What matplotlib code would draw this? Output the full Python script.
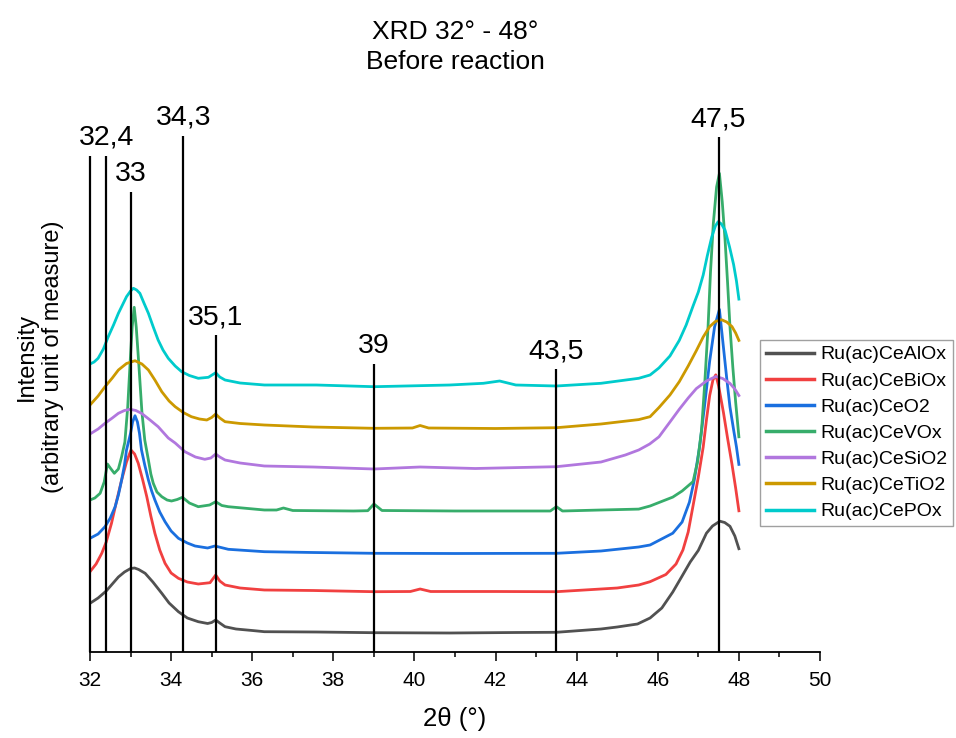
import matplotlib
matplotlib.use("Agg")
import matplotlib.pyplot as plt
from matplotlib.ticker import MultipleLocator

plt.rcParams["font.family"] = ["Liberation Sans", "DejaVu Sans"]

# 2theta / intensity (arbitrary units)
alox_x = [32.0, 32.2, 32.4, 32.55, 32.7, 32.85, 33.0, 33.1, 33.2, 33.36, 33.55, 33.77, 33.95, 34.18,
          34.4, 34.67, 34.9, 35.0, 35.1, 35.2, 35.33, 35.6, 36.0, 36.3, 37.58, 39.0, 40.87, 42.5,
          43.5, 44.6, 45.0, 45.5, 45.81, 46.1, 46.37, 46.6, 46.8, 47.0, 47.2, 47.35, 47.53, 47.65,
          47.78, 47.9, 48.0]
alox_y = [48.7, 54.0, 61.0, 68.0, 75.0, 80.0, 83.5, 84.0, 82.5, 78.7, 70.0, 58.7, 49.0, 40.3,
          34.0, 30.3, 28.5, 29.5, 32.0, 29.0, 25.3, 23.0, 21.5, 20.3, 20.0, 19.3, 19.0, 19.5,
          19.7, 23.0, 25.0, 28.0, 34.0, 44.0, 60.0, 76.0, 90.0, 101.6, 118.8, 126.0, 130.8, 129.5,
          125.7, 116.0, 103.3]

biox_x = [32.0, 32.15, 32.29, 32.4, 32.53, 32.65, 32.78, 32.9, 33.01, 33.1, 33.19, 33.3, 33.4, 33.5,
          33.6, 33.72, 33.85, 34.0, 34.18, 34.4, 34.67, 34.96, 35.1, 35.2, 35.33, 35.7, 36.3, 37.5,
          39.0, 39.9, 40.14, 40.4, 42.0, 43.5, 44.6, 45.0, 45.53, 45.81, 46.2, 46.45, 46.62, 46.75,
          46.87, 47.0, 47.12, 47.2, 47.28, 47.36, 47.43, 47.5, 47.62, 47.72, 47.83, 47.92, 48.0]
biox_y = [80.3, 88.0, 98.7, 110.0, 128.7, 150.0, 172.0, 190.0, 202.0, 198.0, 188.7, 172.0, 155.3, 136.0,
          118.7, 102.0, 88.7, 79.0, 73.7, 70.0, 68.0, 69.3, 77.0, 71.0, 67.0, 64.0, 62.0, 61.5,
          60.3, 60.5, 63.0, 60.5, 60.5, 60.3, 63.0, 64.0, 67.0, 70.3, 77.5, 88.0, 102.0, 120.0,
          146.3, 175.0, 204.9, 232.0, 256.5, 272.0, 277.2, 266.0, 239.3, 214.0, 187.6, 164.0, 141.2]

ceo2_x = [32.0, 32.2, 32.37, 32.5, 32.62, 32.7, 32.78, 32.85, 32.9, 32.96, 33.0, 33.05, 33.11, 33.17,
          33.22, 33.27, 33.35, 33.44, 33.52, 33.6, 33.72, 33.85, 34.0, 34.18, 34.4, 34.59, 34.9,
          35.08, 35.41, 36.3, 37.5, 39.0, 41.0, 43.5, 44.6, 45.53, 45.81, 46.37, 46.6, 46.78, 46.9,
          47.03, 47.15, 47.28, 47.4, 47.52, 47.6, 47.7, 47.78, 47.87, 47.94, 48.0]
ceo2_y = [113.7, 118.0, 125.3, 134.0, 145.3, 157.0, 172.0, 187.0, 202.0, 212.0, 218.7, 230.0, 236.3, 230.0,
          218.7, 202.0, 187.0, 172.0, 161.0, 152.0, 140.0, 130.3, 121.0, 113.7, 109.0, 106.0, 104.0,
          106.0, 102.7, 100.3, 99.5, 98.7, 98.5, 98.7, 101.0, 105.0, 107.0, 118.8, 130.0, 149.8, 172.0,
          204.9, 245.0, 291.0, 325.0, 342.6, 312.0, 273.7, 245.0, 222.1, 205.0, 187.6]

vox_x = [32.0, 32.12, 32.25, 32.35, 32.43, 32.5, 32.6, 32.7, 32.78, 32.86, 32.93, 32.99, 33.04, 33.09,
         33.14, 33.2, 33.28, 33.35, 33.44, 33.5, 33.56, 33.65, 33.77, 33.9, 34.01, 34.15, 34.28, 34.45,
         34.67, 34.95, 35.1, 35.25, 35.41, 36.3, 36.6, 36.77, 37.0, 38.5, 38.85, 39.0, 39.2, 41.0,
         43.35, 43.5, 43.65, 44.6, 45.53, 45.81, 46.37, 46.6, 46.87, 46.98, 47.08, 47.16, 47.24,
         47.3, 47.37, 47.45, 47.52, 47.59, 47.66, 47.72, 47.78, 47.85, 47.92, 48.0]
vox_y = [152.0, 154.0, 158.7, 170.0, 188.0, 184.0, 178.7, 183.0, 195.3, 210.0, 245.0, 290.0, 325.0, 344.7,
         325.0, 290.0, 240.0, 212.0, 192.0, 178.0, 168.7, 160.0, 155.3, 152.0, 151.0, 152.5, 154.7, 149.0,
         145.3, 147.0, 150.3, 146.5, 145.3, 142.0, 142.0, 144.0, 141.5, 141.0, 141.3, 148.0, 141.5, 141.0,
         141.0, 145.3, 141.0, 142.0, 142.9, 146.0, 154.9, 161.0, 170.4, 190.0, 222.1, 270.0, 325.4,
         380.0, 428.7, 465.0, 478.6, 450.0, 411.5, 370.0, 325.4, 285.0, 250.0, 215.2]

sio2_x = [32.0, 32.2, 32.37, 32.55, 32.7, 32.85, 32.99, 33.13, 33.27, 33.48, 33.68, 33.93, 34.1, 34.34,
          34.6, 34.83, 34.98, 35.1, 35.2, 35.33, 35.7, 36.3, 37.5, 39.0, 40.14, 41.5, 43.5, 44.6,
          45.2, 45.53, 45.8, 46.03, 46.3, 46.53, 46.75, 46.95, 47.2, 47.43, 47.6, 47.78, 47.9, 48.0]
sio2_y = [218.0, 223.0, 228.7, 234.0, 238.7, 241.5, 242.7, 241.5, 238.7, 232.0, 225.3, 214.0, 209.0, 200.3,
          195.0, 192.7, 194.0, 198.0, 195.0, 192.0, 189.0, 186.0, 185.0, 183.0, 185.0, 183.5, 185.3, 190.0,
          197.0, 202.0, 208.0, 215.2, 230.0, 242.7, 254.0, 263.4, 271.0, 275.5, 273.5, 268.6, 263.0, 256.5]

tio2_x = [32.0, 32.2, 32.37, 32.55, 32.7, 32.9, 33.11, 33.28, 33.44, 33.6, 33.77, 33.95, 34.1, 34.3,
          34.5, 34.7, 34.88, 35.0, 35.1, 35.2, 35.33, 35.7, 36.3, 37.5, 39.0, 39.95, 40.14, 40.35,
          42.0, 43.5, 44.6, 45.53, 45.81, 46.03, 46.3, 46.53, 46.75, 46.95, 47.12, 47.28, 47.42,
          47.57, 47.7, 47.83, 47.92, 48.0]
tio2_y = [247.0, 256.0, 265.3, 274.0, 282.0, 288.5, 291.3, 288.0, 282.0, 272.0, 260.3, 251.0, 245.3, 239.5,
          235.3, 233.0, 232.0, 234.5, 238.0, 234.0, 230.3, 228.5, 227.0, 225.0, 223.7, 224.0, 226.5, 224.0,
          223.5, 224.3, 228.0, 232.4, 235.3, 244.5, 257.0, 270.3, 286.0, 301.3, 315.0, 325.4, 330.5,
          332.3, 330.0, 325.4, 319.0, 311.6]

pox_x = [32.0, 32.1, 32.2, 32.33, 32.45, 32.58, 32.7, 32.8, 32.9, 33.0, 33.07, 33.15, 33.23, 33.33,
         33.44, 33.56, 33.68, 33.8, 33.93, 34.1, 34.26, 34.45, 34.67, 34.92, 35.1, 35.2, 35.33, 35.7,
         36.3, 37.58, 39.0, 40.87, 41.7, 42.1, 42.5, 43.5, 44.6, 45.53, 45.81, 46.03, 46.3, 46.53,
         46.7, 46.87, 47.0, 47.12, 47.22, 47.33, 47.42, 47.49, 47.57, 47.66, 47.77, 47.87, 47.94, 48.0]
pox_y = [288.0, 290.0, 293.7, 303.0, 315.3, 327.0, 338.7, 347.0, 355.3, 361.0, 363.7, 362.0, 358.7, 349.0,
         338.7, 325.0, 312.0, 302.0, 293.7, 286.0, 280.3, 276.5, 273.7, 274.7, 279.3, 275.0, 272.0, 269.0,
         267.0, 267.0, 265.3, 267.0, 268.7, 271.0, 267.0, 266.0, 268.7, 273.7, 277.0, 284.1, 296.0, 311.6,
         327.0, 346.0, 360.0, 377.0, 396.0, 414.9, 426.0, 430.4, 428.0, 421.8, 405.0, 387.4, 371.0, 352.9]

labels = ["Ru(ac)CeAlOx", "Ru(ac)CeBiOx", "Ru(ac)CeO2", "Ru(ac)CeVOx",
          "Ru(ac)CeSiO2", "Ru(ac)CeTiO2", "Ru(ac)CePOx"]
colors = ["#515151", "#F14040", "#1A6FDF", "#37AD6B", "#B177DE", "#CC9900", "#00CBCC"]

# reference lines: position, height, label
mark_pos = [32.0, 32.4, 33.0, 34.3, 35.1, 39.0, 43.5, 47.5]
mark_top = [496, 496, 460, 516, 317, 288, 283, 515]
mark_txt = ["", "32,4", "33", "34,3", "35,1", "39", "43,5", "47,5"]

series = [(alox_x, alox_y), (biox_x, biox_y), (ceo2_x, ceo2_y), (vox_x, vox_y),
          (sio2_x, sio2_y), (tio2_x, tio2_y), (pox_x, pox_y)]

fig = plt.figure(figsize=(9.56, 7.38), dpi=100)
ax = fig.add_axes([90 / 956, 1 - 652 / 738, 730 / 956, 560 / 738])

lines = []
for (xs, ys), lab, col in zip(series, labels, colors):
    ln, = ax.plot(xs, ys, color=col, lw=2.0, label=lab, solid_joinstyle="round")
    lines.append(ln)

ax.vlines(mark_pos, 0, mark_top, color="black", lw=1.6, zorder=5, clip_on=False)
for p, t, s in zip(mark_pos, mark_top, mark_txt):
    if s:
        ax.text(p, t + 5, s, ha="center", va="bottom", fontsize=20.5, clip_on=False)

ax.set_xlim(32, 50)
ax.set_ylim(0, 560)
ax.xaxis.set_major_locator(MultipleLocator(2))
ax.xaxis.set_minor_locator(MultipleLocator(1))
ax.tick_params(axis="x", which="major", length=6.5, width=1.1, labelsize=15, pad=7)
ax.tick_params(axis="x", which="minor", length=3.5, width=1.1)
ax.set_yticks([])
for s in ["left", "top", "right"]:
    ax.spines[s].set_visible(False)
ax.spines["bottom"].set_linewidth(1.3)

fig.text(455 / 956, 1 - 719 / 738, "2θ (°)", ha="center", va="center", fontsize=18.5)
fig.text(40 / 956, 1 - 357 / 738, "Intensity\n(arbitrary unit of measure)", rotation=90,
         ha="center", va="center", multialignment="center", fontsize=17, linespacing=1.2)
fig.text(455 / 956, 1 - 47 / 738, "XRD 32° - 48°\nBefore reaction", ha="center", va="center",
         fontsize=19, linespacing=1.3)

leg = fig.legend(handles=lines, loc="upper left", bbox_to_anchor=(760 / 956, 1 - 340 / 738),
                 fontsize=14, frameon=True, fancybox=False, handlelength=2.5, handletextpad=0.3,
                 labelspacing=0.44, borderpad=0.3, borderaxespad=0)
leg.get_frame().set_edgecolor("#888888")
leg.get_frame().set_linewidth(1.0)
for h in leg.get_lines():
    h.set_linewidth(2.5)

fig.savefig("out.png", dpi=100)
